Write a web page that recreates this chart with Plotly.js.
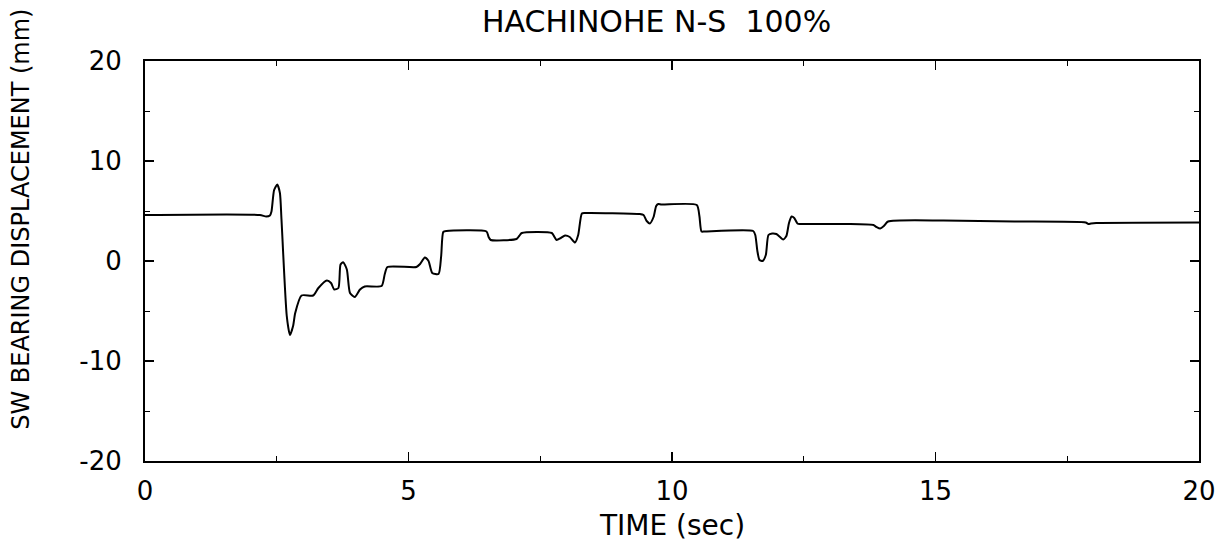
<!DOCTYPE html>
<html>
<head>
<meta charset="utf-8">
<script src="https://cdn.plot.ly/plotly-3.0.1.min.js"></script>
<style>html,body{margin:0;padding:0;background:#fff;}#chart{width:1230px;height:552px;}</style>
</head>
<body>
<div id="chart"></div>
<script>
const timeSec = [0, 2.18, 2.30, 2.37, 2.40, 2.45, 2.51, 2.56, 2.59, 2.69, 2.75, 2.81, 2.85, 2.97, 3.19, 3.29, 3.45, 3.53, 3.59, 3.67, 3.71, 3.76, 3.83, 3.89, 3.98, 4.08, 4.17, 4.49, 4.55, 4.60, 5.15, 5.22, 5.31, 5.38, 5.45, 5.57, 5.62, 5.66, 5.72, 6.48, 6.52, 6.56, 7.05, 7.10, 7.15, 7.72, 7.77, 7.81, 7.89, 7.97, 8.06, 8.16, 8.22, 8.29, 8.35, 9.39, 9.46, 9.52, 9.58, 9.65, 9.70, 9.74, 9.80, 10.47, 10.52, 10.56, 10.62, 11.54, 11.58, 11.62, 11.66, 11.72, 11.78, 11.83, 11.90, 11.98, 12.05, 12.11, 12.17, 12.22, 12.27, 12.32, 12.38, 12.43, 13.31, 13.82, 13.88, 13.95, 14.02, 14.10, 15.15, 16.50, 17.85, 17.90, 17.95, 18.05, 20.0];
const displacementMm = [4.6, 4.6, 4.45, 4.55, 4.95, 7.1, 7.65, 6.8, 4.15, -5.5, -7.4, -6.5, -5.2, -3.45, -3.45, -2.7, -1.95, -2.2, -2.85, -2.7, -0.35, -0.12, -0.85, -3.2, -3.6, -2.85, -2.55, -2.5, -1.3, -0.6, -0.6, -0.3, 0.35, 0.0, -1.2, -1.3, 0.5, 2.9, 3.0, 2.95, 2.4, 2.1, 2.2, 2.5, 2.8, 2.8, 2.4, 2.1, 2.3, 2.55, 2.4, 1.85, 2.6, 4.75, 4.8, 4.7, 4.6, 4.0, 3.75, 4.4, 5.5, 5.7, 5.65, 5.6, 4.5, 2.95, 2.95, 3.0, 2.6, 1.0, 0.1, 0.0, 0.6, 2.6, 2.75, 2.7, 2.4, 2.15, 2.5, 3.8, 4.45, 4.3, 3.75, 3.7, 3.7, 3.6, 3.4, 3.25, 3.5, 3.95, 4.05, 3.95, 3.85, 3.7, 3.75, 3.8, 3.85];
const xTickVals = [0, 5, 10, 15, 20];
const yTickVals = [-20, -10, 0, 10, 20];
const chartTitle = 'HACHINOHE N-S  100%';
const xTitle = 'TIME (sec)';
const yTitle = 'SW BEARING DISPLACEMENT (mm)';

const FONT = '"DejaVu Sans", "Liberation Sans", Arial, sans-serif';

const axisCommon = {
  showgrid: false,
  zeroline: false,
  showline: true,
  linecolor: '#000',
  linewidth: 2,
  mirror: 'ticks',
  ticks: 'inside',
  ticklen: 9,
  tickwidth: 1.5,
  tickcolor: '#000',
  tickfont: {family: FONT, size: 26, color: '#000'},
  tickmode: 'array'
};

const layout = {
  width: 1230,
  height: 552,
  paper_bgcolor: '#fff',
  plot_bgcolor: '#fff',
  showlegend: false,
  margin: {l: 145, r: 31, t: 61, b: 91, pad: 0},
  xaxis: Object.assign({}, axisCommon, {
    range: [0, 20],
    tickvals: xTickVals,
    ticktext: xTickVals.map(String),
    ticklabelstandoff: 6,
    minor: {dtick: 2.5, ticks: 'inside', ticklen: 5, tickwidth: 1, tickcolor: '#000', showgrid: false}
  }),
  yaxis: Object.assign({}, axisCommon, {
    range: [-20, 20],
    tickvals: yTickVals,
    ticktext: yTickVals.map(String),
    ticklabelstandoff: 16,
    minor: {dtick: 5, ticks: 'inside', ticklen: 5, tickwidth: 1, tickcolor: '#000', showgrid: false}
  }),
  annotations: [
    {text: chartTitle, xref: 'paper', yref: 'paper', x: 0.485, y: 1, yshift: 59.5, xanchor: 'center', yanchor: 'top', showarrow: false, font: {family: FONT, size: 30, color: '#000'}},
    {text: xTitle, xref: 'paper', yref: 'paper', x: 0.5, y: 0, yshift: -64, xanchor: 'center', yanchor: 'middle', showarrow: false, font: {family: FONT, size: 28, color: '#000'}},
    {text: yTitle, xref: 'paper', yref: 'paper', x: 0, xshift: -124, y: 0.603, xanchor: 'center', yanchor: 'middle', textangle: -90, showarrow: false, font: {family: FONT, size: 24, color: '#000'}}
  ]
};

const trace = {
  x: timeSec,
  y: displacementMm,
  type: 'scatter',
  mode: 'lines',
  line: {color: '#000', width: 2, shape: 'spline', smoothing: 0.6},
  hoverinfo: 'skip'
};

Plotly.newPlot('chart', [trace], layout, {staticPlot: true, displayModeBar: false});
</script>
</body>
</html>
